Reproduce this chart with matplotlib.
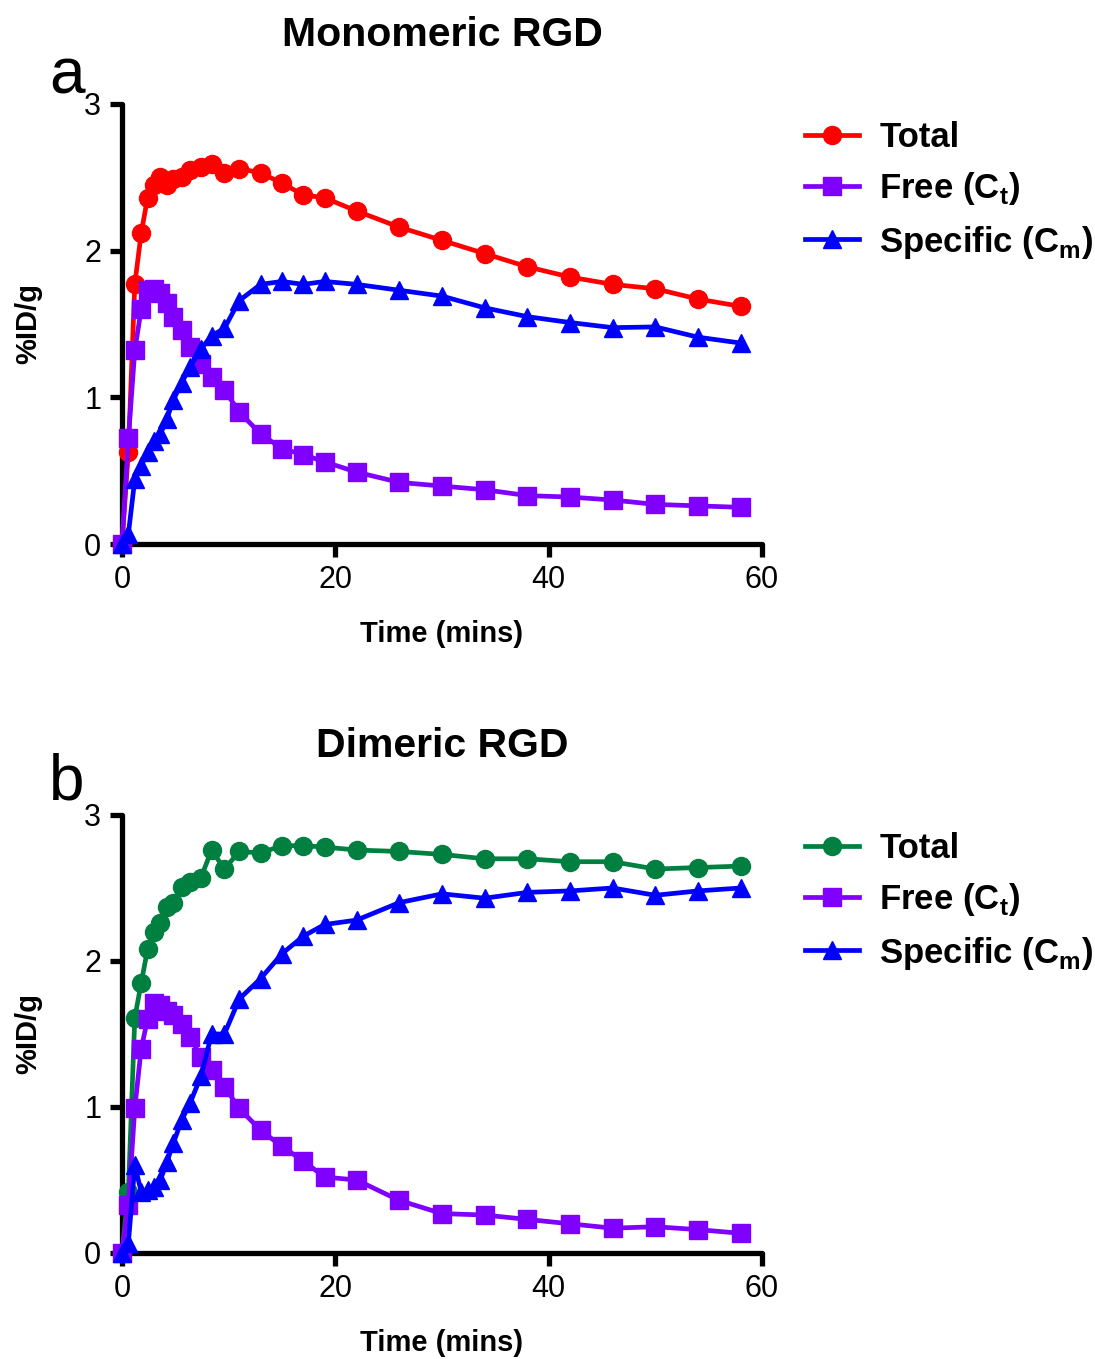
import numpy as np
import matplotlib
matplotlib.use("Agg")
import matplotlib.pyplot as plt
from matplotlib import font_manager

plt.rcParams['font.family'] = ['Liberation Sans', 'DejaVu Sans']
plt.rcParams['mathtext.fontset'] = 'custom'
plt.rcParams['mathtext.bf'] = 'Liberation Sans:bold'
plt.rcParams['mathtext.rm'] = 'Liberation Sans'

names = {f.name for f in font_manager.fontManager.ttflist}
narrow = ['Liberation Sans Narrow', 'Liberation Sans'] if 'Liberation Sans Narrow' in names else ['Liberation Sans']

# time points (mins)
t = [0, 0.6, 1.2, 1.8, 2.4, 3.0, 3.6, 4.2, 4.8, 5.6, 6.4, 7.4, 8.4, 9.6, 11,
     13, 15, 17, 19, 22, 26, 30, 34, 38, 42, 46, 50, 54, 58]

# monomeric RGD
mono_total = [0, 0.63, 1.77, 2.12, 2.36, 2.45, 2.50, 2.45, 2.49, 2.50, 2.55, 2.57, 2.59, 2.53, 2.56,
              2.53, 2.46, 2.38, 2.36, 2.27, 2.16, 2.07, 1.98, 1.89, 1.82, 1.77, 1.74, 1.67, 1.62]
mono_free = [0, 0.72, 1.32, 1.60, 1.73, 1.74, 1.71, 1.64, 1.55, 1.46, 1.34, 1.23, 1.14, 1.05, 0.90,
             0.75, 0.65, 0.61, 0.56, 0.49, 0.42, 0.395, 0.37, 0.33, 0.32, 0.30, 0.27, 0.26, 0.25]
mono_spec = [0, 0.07, 0.44, 0.53, 0.63, 0.70, 0.75, 0.85, 0.98, 1.10, 1.21, 1.33, 1.42, 1.47, 1.66,
             1.77, 1.79, 1.77, 1.79, 1.77, 1.73, 1.69, 1.61, 1.55, 1.51, 1.475, 1.48, 1.41, 1.37]

# dimeric RGD
di_total = [0, 0.42, 1.61, 1.85, 2.08, 2.20, 2.26, 2.37, 2.40, 2.51, 2.54, 2.57, 2.76, 2.63, 2.75,
            2.74, 2.79, 2.79, 2.78, 2.76, 2.75, 2.73, 2.70, 2.70, 2.68, 2.68, 2.63, 2.64, 2.65]
di_free = [0, 0.33, 0.99, 1.40, 1.60, 1.71, 1.70, 1.66, 1.63, 1.57, 1.48, 1.34, 1.25, 1.14, 0.99,
           0.84, 0.73, 0.63, 0.52, 0.50, 0.36, 0.27, 0.26, 0.23, 0.20, 0.17, 0.18, 0.16, 0.135]
di_spec = [0, 0.07, 0.60, 0.42, 0.43, 0.45, 0.50, 0.62, 0.75, 0.91, 1.03, 1.21, 1.50, 1.50, 1.74,
           1.88, 2.05, 2.17, 2.25, 2.28, 2.40, 2.46, 2.43, 2.47, 2.48, 2.50, 2.45, 2.48, 2.50]

labels = ['Total', r'Free (C$_\mathbf{t}$)', r'Specific (C$_\mathbf{m}$)']
purple = '#7F00FF'
blue = '#0000FF'

fig = plt.figure(figsize=(10.95, 13.59), dpi=100)
ax1 = fig.add_axes([0.1114, 0.5997, 0.5845, 0.3238])
ax2 = fig.add_axes([0.1114, 0.0780, 0.5845, 0.3223])

panels = [
    (ax1, mono_total, mono_free, mono_spec, '#FF0000', 'Monomeric RGD', 'a', 0.944),
    (ax2, di_total, di_free, di_spec, '#008040', 'Dimeric RGD', 'b', 0.424),
]

for ax, tot, free, spec, tcol, title, letter, ly in panels:
    ax.plot(t, tot, '-o', color=tcol, lw=3.4, ms=13, clip_on=False, zorder=3, label=labels[0])
    ax.plot(t, free, '-s', color=purple, lw=3.4, ms=12.5, clip_on=False, zorder=4, label=labels[1])
    ax.plot(t, spec, '-^', color=blue, lw=3.4, ms=13, clip_on=False, zorder=5, label=labels[2])
    ax.set_xlim(0, 60)
    ax.set_ylim(0, 3)
    ax.set_xticks([0, 20, 40, 60])
    ax.set_yticks([0, 1, 2, 3])
    for s in ['top', 'right']:
        ax.spines[s].set_visible(False)
    for s in ['left', 'bottom']:
        ax.spines[s].set_linewidth(3.8)
        ax.spines[s].set_capstyle('round')
    ax.tick_params(direction='out', length=9, width=3.8, labelsize=22, pad=6)
    for lab in ax.get_xticklabels() + ax.get_yticklabels():
        lab.set_family(narrow)
    ax.set_xlabel('Time (mins)', fontsize=21, fontweight='bold', labelpad=18)
    ax.set_ylabel('%ID/g', fontsize=21, fontweight='bold', labelpad=30)
    ax.set_title(title, fontsize=29.5, fontweight='bold', pad=42)
    leg = ax.legend(loc='upper left', bbox_to_anchor=(1.045, 0.993), frameon=False,
                    handlelength=1.55, handletextpad=0.6, labelspacing=0.47,
                    borderaxespad=0, prop={'family': narrow, 'weight': 'bold', 'size': 25})
    fig.text(0.061, ly, letter, fontsize=46, ha='center', va='center')

fig.savefig('out.png', dpi=100)
